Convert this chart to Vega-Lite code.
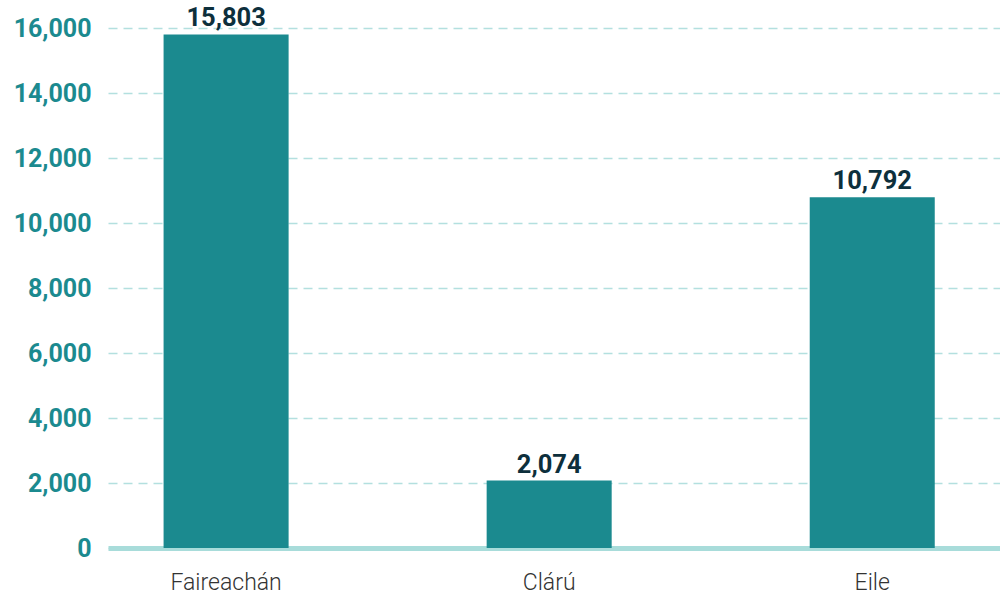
{
  "$schema": "https://vega.github.io/schema/vega-lite/v6.json",
  "autosize": {"type": "none"},
  "padding": {"left": 108, "top": 28, "right": 0, "bottom": 46},
  "width": 892,
  "height": 520,
  "background": "white",
  "config": {"view": {"stroke": null}, "font": "Roboto"},
  "data": {"values": [
    {"category": "Faireachán", "value": 15803},
    {"category": "Clárú", "value": 2074},
    {"category": "Eile", "value": 10792}
  ]},
  "encoding": {
    "x": {"field": "category", "type": "nominal", "sort": null,
      "scale": {"paddingInner": 0.613, "paddingOuter": 0.187, "align": 0.46},
      "axis": {"title": null, "labelAngle": 0, "labelFont": "Roboto", "labelFontWeight": 300, "labelFontSize": 23, "labelColor": "#333333", "labelPadding": 23, "ticks": false, "domainColor": "#a8dcda", "domainWidth": 5, "domainCap": "butt"}},
    "y": {"field": "value", "type": "quantitative",
      "scale": {"domain": [0, 16000], "nice": false},
      "axis": {"title": null, "values": [0,2000,4000,6000,8000,10000,12000,14000,16000], "format": ",d", "labelFont": "Roboto", "labelFontWeight": "bold", "labelFontSize": 25, "labelColor": "#1b8a8f", "labelPadding": 17, "ticks": false, "domain": false, "gridColor": "#b3e0df", "gridDash": [9, 6], "gridWidth": 1.3}}
  },
  "layer": [
    {"mark": {"type": "bar", "color": "#1b8a8f"}},
    {"mark": {"type": "text", "dy": -16, "font": "Roboto", "fontWeight": "bold", "fontSize": 25.5, "color": "#0d2f3c"},
     "encoding": {"text": {"field": "value", "type": "quantitative", "format": ",d"}}}
  ]
}
